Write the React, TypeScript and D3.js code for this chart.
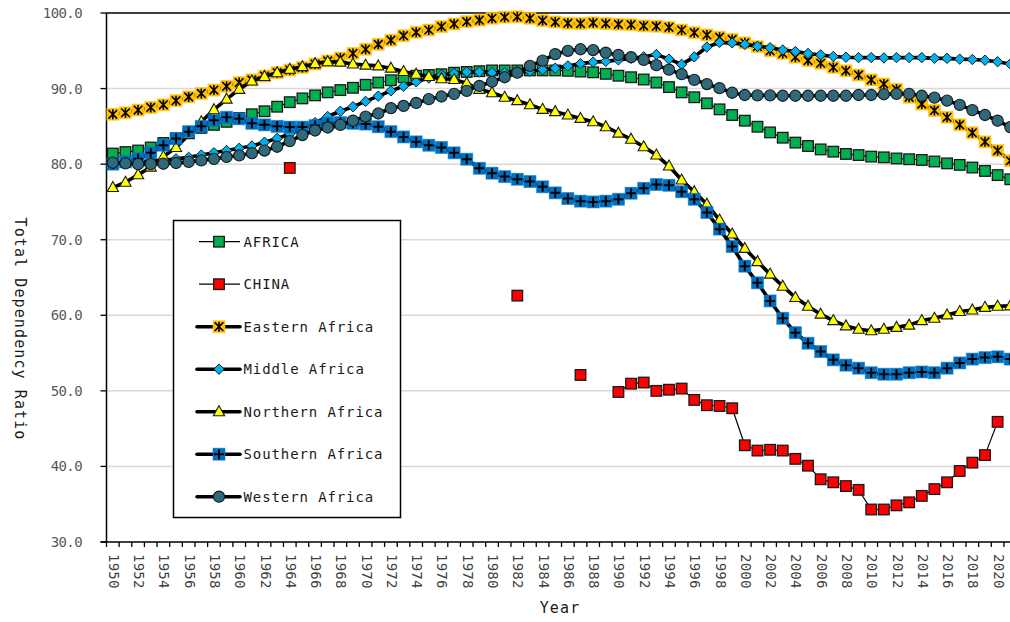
import React from "react";
import * as d3 from "d3";

// Categories: one per year
const years: number[] = d3.range(1950, 2022);
const tickYears: number[] = years.filter((y) => (y - 1950) % 2 === 0);
const yTicks: number[] = [30, 40, 50, 60, 70, 80, 90, 100];
const gridTicks: number[] = [40, 50, 60, 70, 80, 90];

const africa: (number | null)[] = [
  81.4, 81.6, 81.8, 82.2, 82.8, 83.4, 84.2, 84.8, 85.2, 85.6,
  86.1, 86.6, 87.0, 87.6, 88.2, 88.7, 89.1, 89.5, 89.8, 90.1,
  90.5, 90.8, 91.1, 91.5, 91.7, 91.8, 91.9, 92.1, 92.2, 92.3,
  92.4, 92.4, 92.4, 92.4, 92.4, 92.4, 92.35, 92.25, 92.15, 91.95,
  91.7, 91.5, 91.2, 90.8, 90.2, 89.5, 88.85, 88.05, 87.25, 86.5,
  85.75, 84.95, 84.2, 83.5, 82.85, 82.4, 81.95, 81.65, 81.35, 81.2,
  81.0, 80.9, 80.75, 80.65, 80.55, 80.35, 80.1, 79.9, 79.55, 79.1,
  78.55, 78.0,
];

const china: (number | null)[] = [
  null, null, null, null, null, null, null, null, null, null,
  null, null, null, null, 79.5, null, null, null, null, null,
  null, null, null, null, null, null, null, null, null, null,
  null, null, 62.6, null, null, null, null, 52.1, null, null,
  49.85, 50.95, 51.1, 50.0, 50.15, 50.3, 48.8, 48.1, 48.0, 47.7,
  42.8, 42.1, 42.2, 42.1, 41.0, 40.1, 38.3, 37.9, 37.4, 36.9,
  34.3, 34.3, 34.85, 35.25, 36.1, 37.0, 37.9, 39.4, 40.5, 41.5,
  45.9, null,
];

const eastern: (number | null)[] = [
  86.6, 86.8, 87.15, 87.5, 87.85, 88.4, 88.9, 89.35, 89.8, 90.3,
  90.8, 91.15, 91.65, 92.1, 92.45, 92.8, 93.25, 93.65, 94.05, 94.65,
  95.2, 95.85, 96.4, 97.0, 97.45, 97.75, 98.2, 98.55, 98.85, 99.05,
  99.3, 99.45, 99.5, 99.3, 99.0, 98.8, 98.65, 98.6, 98.7, 98.6,
  98.5, 98.45, 98.3, 98.25, 98.1, 97.75, 97.4, 97.1, 96.8, 96.5,
  96.05, 95.55, 95.0, 94.65, 94.15, 93.7, 93.35, 92.8, 92.35, 91.8,
  91.15, 90.6, 89.9, 88.85, 87.95, 87.1, 86.2, 85.2, 84.15, 82.95,
  81.8, 80.45,
];

const middle: (number | null)[] = [
  80.1, 80.2, 80.3, 80.4, 80.5, 80.7, 80.9, 81.2, 81.5, 81.8,
  82.1, 82.4, 82.9, 83.4, 84.0, 84.7, 85.5, 86.3, 87.0, 87.6,
  88.3, 89.0, 89.7, 90.3, 90.9, 91.4, 91.8, 92.0, 92.2, 92.2,
  92.1, 92.1, 92.2, 92.3, 92.5, 92.7, 93.0, 93.3, 93.5, 93.6,
  93.8, 94.0, 94.2, 94.5, 93.9, 93.2, 94.2, 95.5, 96.1, 96.05,
  95.85, 95.6, 95.4, 95.1, 94.9, 94.65, 94.45, 94.25, 94.15, 94.1,
  94.1, 94.05, 94.1, 94.1, 94.1, 94.0, 94.0, 93.9, 93.85, 93.75,
  93.55, 93.25,
];

const northern: (number | null)[] = [
  76.9, 77.6, 78.6, 79.6, 81.0, 82.2, 83.9, 85.6, 87.2, 88.6,
  89.9, 91.0, 91.6, 92.1, 92.55, 92.9, 93.3, 93.55, 93.5, 93.25,
  93.1, 93.0, 92.7, 92.25, 91.9, 91.6, 91.3, 91.2, 90.7, 89.9,
  89.45, 88.85, 88.4, 87.85, 87.25, 86.95, 86.5, 86.05, 85.6, 84.95,
  84.1, 83.3, 82.3, 81.2, 79.75, 77.9, 76.35, 74.7, 72.6, 70.75,
  68.85, 67.1, 65.45, 63.85, 62.35, 61.2, 60.15, 59.3, 58.6, 58.15,
  57.95, 58.15, 58.4, 58.7, 59.3, 59.6, 60.05, 60.5, 60.7, 61.05,
  61.2, 61.25,
];

const southern: (number | null)[] = [
  80.0, 80.3, 80.7, 81.5, 82.5, 83.4, 84.3, 85.0, 85.8, 86.2,
  86.0, 85.4, 85.2, 85.0, 84.9, 84.9, 85.1, 85.4, 85.5, 85.4,
  85.3, 84.95, 84.3, 83.6, 82.95, 82.5, 82.2, 81.5, 80.65, 79.45,
  78.8, 78.35, 78.0, 77.7, 77.0, 76.2, 75.45, 75.1, 75.0, 75.1,
  75.35, 76.15, 76.8, 77.3, 77.2, 76.35, 75.35, 73.6, 71.4, 69.1,
  66.5, 64.3, 61.9, 59.6, 57.7, 56.3, 55.2, 54.1, 53.4, 53.0,
  52.4, 52.2, 52.2, 52.4, 52.5, 52.4, 53.0, 53.7, 54.2, 54.4,
  54.5, 54.2,
];

const western: (number | null)[] = [
  80.2, 80.1, 80.0, 80.0, 80.05, 80.15, 80.3, 80.5, 80.7, 80.95,
  81.15, 81.45, 81.8, 82.3, 83.05, 83.85, 84.45, 84.85, 85.2, 85.75,
  86.3, 86.7, 87.4, 87.7, 88.1, 88.6, 88.95, 89.3, 89.7, 90.35,
  90.9, 91.5, 92.1, 93.0, 93.7, 94.55, 95.0, 95.2, 95.1, 94.75,
  94.45, 94.15, 93.8, 93.1, 92.5, 91.9, 91.15, 90.6, 90.05, 89.45,
  89.15, 89.1, 89.1, 89.05, 89.05, 89.05, 89.05, 89.05, 89.05, 89.15,
  89.15, 89.25, 89.3, 89.3, 89.05, 88.8, 88.4, 87.85, 87.15, 86.5,
  85.75, 84.9,
];

type MarkerKind = "square" | "star" | "diamond" | "triangle" | "plus" | "circle";

interface Series {
  name: string;
  values: (number | null)[];
  marker: MarkerKind;
  fill: string;
  lineWidth: number;
}

const seriesList: Series[] = [
  { name: "AFRICA", values: africa, marker: "square", fill: "#00B050", lineWidth: 1.2 },
  { name: "CHINA", values: china, marker: "square", fill: "#FF0000", lineWidth: 1.2 },
  { name: "Eastern Africa", values: eastern, marker: "star", fill: "#FFC000", lineWidth: 3.6 },
  { name: "Middle Africa", values: middle, marker: "diamond", fill: "#00B0F0", lineWidth: 3.6 },
  { name: "Northern Africa", values: northern, marker: "triangle", fill: "#FFFF00", lineWidth: 3.6 },
  { name: "Southern Africa", values: southern, marker: "plus", fill: "#0070C0", lineWidth: 3.6 },
  { name: "Western Africa", values: western, marker: "circle", fill: "#2E6A7C", lineWidth: 3.6 },
];

const W = 1010;
const H = 622;
const plotLeft = 106.5;
const band = 12.64;
const plotTop = 13;
const plotBottom = 542;

const x = d3
  .scaleBand<number>()
  .domain(years)
  .range([plotLeft, plotLeft + band * years.length])
  .padding(0);
const y = d3.scaleLinear().domain([30, 100]).range([plotBottom, plotTop]);

const cx = (yr: number) => (x(yr) as number) + x.bandwidth() / 2;

const MONO = "'DejaVu Sans Mono', 'Liberation Mono', monospace";

function Marker({ kind, fill, px, py }: { kind: MarkerKind; fill: string; px: number; py: number }) {
  const edge = "#1a1a1a";
  switch (kind) {
    case "square":
      return <rect x={px - 5.3} y={py - 5.3} width={10.6} height={10.6} fill={fill} stroke={edge} strokeWidth={1.3} />;
    case "star":
      return (
        <g>
          <rect x={px - 6} y={py - 6} width={12} height={12} fill={fill} stroke="#FFC000" strokeOpacity={0.5} strokeWidth={1} />
          <path
            d={`M${px},${py - 5}L${px},${py + 5}M${px - 4.3},${py - 4.3}L${px + 4.3},${py + 4.3}M${px - 4.3},${py + 4.3}L${px + 4.3},${py - 4.3}`}
            stroke="#000"
            strokeWidth={1.6}
          />
        </g>
      );
    case "diamond":
      return (
        <path
          d={`M${px},${py - 5.2}L${px + 5.2},${py}L${px},${py + 5.2}L${px - 5.2},${py}Z`}
          fill={fill}
          stroke={edge}
          strokeWidth={1}
        />
      );
    case "triangle":
      return (
        <path
          d={`M${px},${py - 6}L${px + 5.6},${py + 4}L${px - 5.6},${py + 4}Z`}
          fill={fill}
          stroke={edge}
          strokeWidth={1.1}
          strokeLinejoin="miter"
        />
      );
    case "plus":
      return (
        <g>
          <rect x={px - 6} y={py - 6} width={12} height={12} fill={fill} stroke={fill} strokeOpacity={0.5} strokeWidth={1} />
          <path d={`M${px},${py - 5}L${px},${py + 5}M${px - 5},${py}L${px + 5},${py}`} stroke="#000" strokeWidth={2} />
        </g>
      );
    case "circle":
    default:
      return <circle cx={px} cy={py} r={5.6} fill={fill} stroke={edge} strokeWidth={1.1} />;
  }
}

export default function App() {
  const line = d3
    .line<{ yr: number; v: number | null }>()
    .defined((d) => d.v != null)
    .x((d) => cx(d.yr))
    .y((d) => y(d.v as number));

  const legendX = 173.5;
  const legendY = 220.5;
  const legendRowY = (i: number) => 241.7 + i * 42.5;

  return (
    <svg
      width={W}
      height={H}
      viewBox={`0 0 ${W} ${H}`}
      style={{ position: "absolute", left: 0, top: 0, background: "#fff" }}
    >
      <rect x={0} y={0} width={W} height={H} fill="#fff" />

      {/* horizontal gridlines */}
      {gridTicks.map((t) => (
        <line key={`g${t}`} x1={plotLeft} x2={W} y1={y(t)} y2={y(t)} stroke="#D9D9D9" strokeWidth={1.5} />
      ))}

      {/* plot frame: top, left, bottom */}
      <line x1={plotLeft} x2={W} y1={plotTop} y2={plotTop} stroke="#000" strokeWidth={1.5} />
      <line x1={plotLeft} x2={plotLeft} y1={plotTop} y2={plotBottom} stroke="#000" strokeWidth={1.5} />
      <line x1={plotLeft - 6} x2={W} y1={plotBottom} y2={plotBottom} stroke="#000" strokeWidth={1.5} />

      {/* y axis ticks and labels */}
      {yTicks.map((t) => (
        <g key={`y${t}`}>
          <line x1={plotLeft - 6} x2={plotLeft} y1={y(t)} y2={y(t)} stroke="#000" strokeWidth={1.3} />
          <text
            x={82}
            y={y(t)}
            textAnchor="end"
            dominantBaseline="central"
            fontFamily={MONO}
            fontSize={14}
            letterSpacing={-0.6}
            fill="#595959"
          >
            {t.toFixed(1)}
          </text>
        </g>
      ))}

      {/* x axis ticks at category boundaries */}
      {years.map((yr) => (
        <line
          key={`xt${yr}`}
          x1={x(yr) as number}
          x2={x(yr) as number}
          y1={plotBottom}
          y2={plotBottom + 5}
          stroke="#000"
          strokeWidth={1.3}
        />
      ))}
      {tickYears.map((yr) => (
        <text
          key={`xl${yr}`}
          transform={`translate(${cx(yr) + 1},${plotBottom + 12}) rotate(90)`}
          textAnchor="start"
          dominantBaseline="central"
          fontFamily={MONO}
          fontSize={14}
          letterSpacing={0.2}
          fill="#404040"
        >
          {yr}
        </text>
      ))}

      {/* axis titles */}
      <text
        transform={`translate(20,329) rotate(90)`}
        textAnchor="middle"
        dominantBaseline="central"
        fontFamily={MONO}
        fontSize={15}
        letterSpacing={1.1}
        fill="#1a1a1a"
      >
        Total Dependency Ratio
      </text>
      <text
        x={560}
        y={608}
        textAnchor="middle"
        dominantBaseline="central"
        fontFamily={MONO}
        fontSize={15}
        letterSpacing={1.1}
        fill="#1a1a1a"
      >
        Year
      </text>

      {/* series */}
      {seriesList.map((s) => {
        const pts = years.map((yr, i) => ({ yr, v: s.values[i] }));
        return (
          <g key={s.name}>
            <path
              d={line(pts) || ""}
              fill="none"
              stroke="#000"
              strokeWidth={s.lineWidth}
              strokeLinejoin="round"
              strokeLinecap="round"
            />
            {pts
              .filter((p) => p.v != null)
              .map((p) => (
                <Marker key={p.yr} kind={s.marker} fill={s.fill} px={cx(p.yr)} py={y(p.v as number)} />
              ))}
          </g>
        );
      })}

      {/* legend */}
      <rect x={legendX} y={legendY} width={227} height={297} fill="#fff" stroke="#000" strokeWidth={1.5} />
      {seriesList.map((s, i) => {
        const ry = legendRowY(i);
        return (
          <g key={`lg${s.name}`}>
            <line
              x1={s.lineWidth > 2 ? 197 : 199}
              x2={240}
              y1={ry}
              y2={ry}
              stroke="#000"
              strokeWidth={s.lineWidth}
              strokeLinecap={s.lineWidth > 2 ? "round" : "butt"}
            />
            <Marker kind={s.marker} fill={s.fill} px={219} py={ry} />
            <text
              x={243.5}
              y={ry}
              dominantBaseline="central"
              fontFamily={MONO}
              fontSize={14}
              letterSpacing={0.9}
              fill="#1a1a1a"
            >
              {s.name}
            </text>
          </g>
        );
      })}
    </svg>
  );
}
